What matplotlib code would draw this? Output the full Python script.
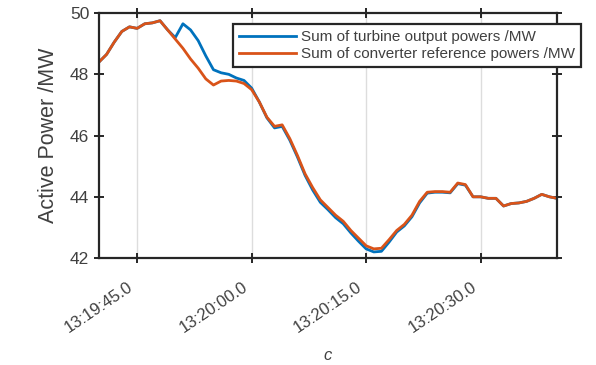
import numpy as np
import matplotlib
matplotlib.use("Agg")
import matplotlib.pyplot as plt
import matplotlib.dates as mdates
import matplotlib.transforms as mtransforms

# seconds after 13:19:40
t_sec = list(range(0, 61))

# sum of converter reference powers /MW
p_conv = [48.40, 48.65, 49.05, 49.40, 49.55, 49.50, 49.65, 49.68, 49.75, 49.45,
          49.15, 48.85, 48.50, 48.20, 47.85, 47.65, 47.78, 47.80, 47.78, 47.70,
          47.50, 47.10, 46.60, 46.30, 46.35, 45.90, 45.35, 44.75, 44.30, 43.90,
          43.65, 43.40, 43.20, 42.90, 42.65, 42.40, 42.30, 42.32, 42.60, 42.90,
          43.10, 43.40, 43.85, 44.15, 44.17, 44.17, 44.15, 44.45, 44.40, 44.00,
          44.00, 43.95, 43.95, 43.70, 43.78, 43.80, 43.85, 43.95, 44.08, 44.00,
          43.95]

# sum of turbine output powers /MW
p_turb = [48.40, 48.65, 49.05, 49.40, 49.55, 49.50, 49.65, 49.68, 49.75, 49.45,
          49.20, 49.65, 49.45, 49.10, 48.60, 48.15, 48.05, 48.00, 47.88, 47.80,
          47.55, 47.10, 46.58, 46.25, 46.30, 45.85, 45.30, 44.70, 44.22, 43.82,
          43.58, 43.32, 43.12, 42.82, 42.55, 42.30, 42.20, 42.22, 42.52, 42.85,
          43.05, 43.35, 43.80, 44.12, 44.15, 44.15, 44.13, 44.43, 44.38, 44.00,
          44.00, 43.95, 43.95, 43.70, 43.78, 43.80, 43.85, 43.95, 44.08, 44.00,
          43.95]

start = np.datetime64("2020-01-01T13:19:40")
times = start + np.array(t_sec) * np.timedelta64(1, "s")

plt.rcParams['font.family'] = ['Liberation Sans', 'DejaVu Sans']
dark = '#262626'
grey_txt = '#404040'

fig = plt.figure(figsize=(5.96, 3.65), dpi=100)
ax = fig.add_axes([0.166, 0.293, 0.7686, 0.6712])

ax.plot(times, p_turb, color='#0072BD', lw=2.0, label='Sum of turbine output powers /MW')
ax.plot(times, p_conv, color='#D95319', lw=2.0, label='Sum of converter reference powers /MW')

ax.set_xlim(times[0], times[-1])
ax.set_ylim(42, 50)
ax.set_yticks([42, 44, 46, 48, 50])

ticks = [np.datetime64("2020-01-01T13:19:45"), np.datetime64("2020-01-01T13:20:00"),
         np.datetime64("2020-01-01T13:20:15"), np.datetime64("2020-01-01T13:20:30")]
ax.set_xticks(ticks)
ax.xaxis.set_major_formatter(mdates.DateFormatter('%H:%M:%S.0'))
ax.grid(axis='x', color='#dddddd', lw=1.0)
ax.set_axisbelow(True)

for s in ax.spines.values():
    s.set_linewidth(1.6)
    s.set_color(dark)
ax.tick_params(direction='inout', length=7, width=1.4, color=dark,
               labelcolor=grey_txt, labelsize=12.5, top=True, right=True)
ax.tick_params(axis='x', labelsize=12, pad=12)
shift = mtransforms.ScaledTranslation(-0.10, 0, fig.dpi_scale_trans)
for lab in ax.get_xticklabels():
    lab.set_rotation(34)
    lab.set_ha('right')
    lab.set_rotation_mode('anchor')
    lab.set_transform(lab.get_transform() + shift)

ax.set_ylabel('Active Power /MW', fontsize=15.5, color=grey_txt, labelpad=8)
ax.set_xlabel('c', fontsize=12, color=grey_txt, style='italic', labelpad=9)

leg = ax.legend(loc='upper left', bbox_to_anchor=(0.2926, 0.955), fontsize=11,
                frameon=True, fancybox=False, handlelength=3.7, borderpad=0.4,
                labelspacing=0.2, handletextpad=0.33, borderaxespad=0)
leg.get_frame().set_edgecolor(dark)
leg.get_frame().set_linewidth(1.6)
leg.get_frame().set_alpha(1)
for txt in leg.get_texts():
    txt.set_color(grey_txt)

fig.savefig('out.png', dpi=100)
